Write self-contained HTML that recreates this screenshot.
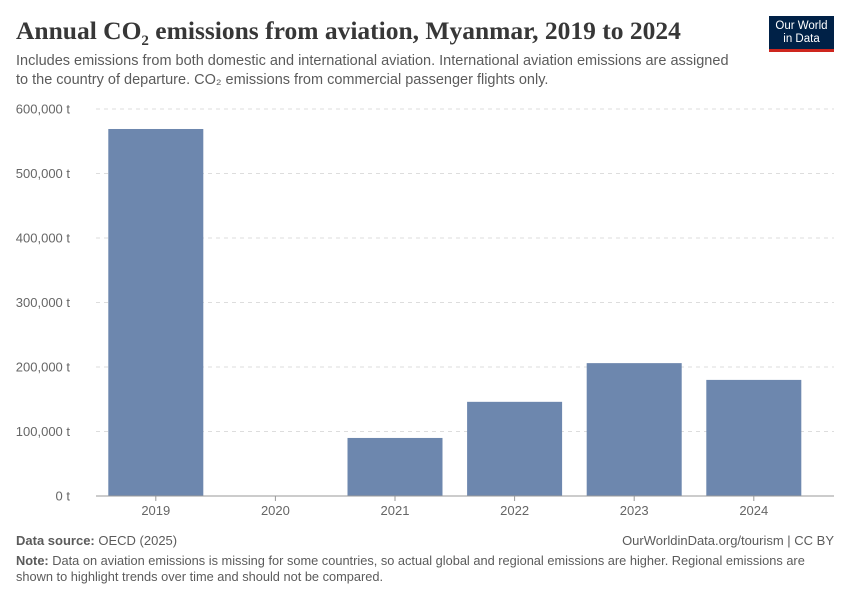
<!DOCTYPE html>
<html><head><meta charset="utf-8"><style>
body{margin:0;background:#fff;width:850px;height:600px;overflow:hidden;font-family:"Liberation Sans",sans-serif;position:relative}
.t{position:absolute;margin:0}
</style></head><body>
<div class="t" style="left:16px;top:16px;font-family:'Liberation Serif',serif;font-size:25.5px;font-weight:bold;color:#373737">Annual CO<sub style="font-size:15px">2</sub> emissions from aviation, Myanmar, 2019 to 2024</div>
<div class="t" style="left:16px;top:52px;width:728px;font-size:14.5px;line-height:19px;color:#5b5b5b">Includes emissions from both domestic and international aviation. International aviation emissions are assigned to the country of departure. CO₂ emissions from commercial passenger flights only.</div>
<div class="t" style="left:769px;top:16px;width:65px;height:36px;background:#002147;border-bottom:3px solid #ce261e;box-sizing:border-box;color:#fff;font-size:11.5px;line-height:13px;text-align:center;padding-top:4px">Our World<br>in Data</div>
<svg id="chart" width="850" height="600" style="position:absolute;left:0;top:0"></svg>
<div class="t" style="left:16px;top:533px;font-size:13px;color:#5b5b5b"><b>Data source:</b> OECD (2025)</div>
<div class="t" style="right:16px;top:533px;font-size:13px;color:#5b5b5b">OurWorldinData.org/tourism | CC BY</div>
<div class="t" style="left:16px;top:553px;width:810px;font-size:12.8px;line-height:16px;color:#5b5b5b"><b>Note:</b> Data on aviation emissions is missing for some countries, so actual global and regional emissions are higher. Regional emissions are shown to highlight trends over time and should not be compared.</div>
<script>
const years=["2019","2020","2021","2022","2023","2024"];
const values=[569000,0,90000,146000,206000,180000];
const ticks=[0,100000,200000,300000,400000,500000,600000];
const tickLabels=["0 t","100,000 t","200,000 t","300,000 t","400,000 t","500,000 t","600,000 t"];
const svg=document.getElementById('chart');const NS='http://www.w3.org/2000/svg';
const y=v=>496-v/600000*387;
const x0=96,step=119.6,bw=95;
const bx=i=>x0+i*step+(step-bw)/2;
function el(t,a){const e=document.createElementNS(NS,t);for(const k in a)e.setAttribute(k,a[k]);svg.appendChild(e);return e;}
ticks.forEach((v,i)=>{
 if(v>0){const g=el('line',{x1:96,x2:834,y1:y(v),y2:y(v),stroke:'#ddd','stroke-dasharray':'4,4'});
 
 }
 const t=el('text',{x:70,y:y(v)+4.5,'text-anchor':'end','font-size':13,fill:'#666','font-family':'Liberation Sans'});
 t.textContent=tickLabels[i];
 
 
});
values.forEach((v,i)=>{
 if(v>0){const r=el('rect',{x:bx(i),y:y(v),width:bw,height:496-y(v),fill:'#6d87ae'});
 
 }
 const tk=el('line',{x1:bx(i)+bw/2,x2:bx(i)+bw/2,y1:496,y2:501,stroke:'#999'});
 
 
 const t=el('text',{x:bx(i)+bw/2,y:515,'text-anchor':'middle','font-size':13,fill:'#666','font-family':'Liberation Sans'});
 t.textContent=years[i];
 
 
});
const ax=el('line',{x1:96,x2:834,y1:496,y2:496,stroke:'#999'});


</script>
</body></html>
